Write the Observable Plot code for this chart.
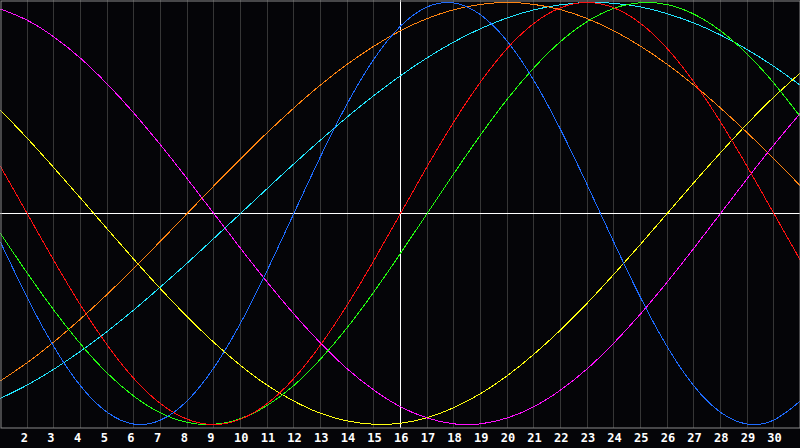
<!DOCTYPE html>
<html>
<head>
<meta charset="utf-8">
<script src="https://cdn.jsdelivr.net/npm/d3@7"></script>
<script src="https://cdn.jsdelivr.net/npm/@observablehq/plot@0.6"></script>
<style>
  html, body { margin: 0; padding: 0; background: #050508; }
  #chart svg { display: block; }
</style>
</head>
<body>
<div id="chart"></div>
<script>
const days = d3.range(1, 32);
const tickDays = d3.range(2, 31);
const todayDay = 16;

const physical = [-0.136,-0.398,-0.631,-0.817,-0.942,-0.998,-0.979,-0.888,-0.731,-0.520,-0.270,0,0.270,0.520,0.731,0.888,0.979,0.998,0.942,0.817,0.631,0.398,0.136,-0.136,-0.398,-0.631,-0.817,-0.942,-0.998,-0.979,-0.888];
const emotional = [0.223,0,-0.223,-0.434,-0.623,-0.782,-0.901,-0.975,-1,-0.975,-0.901,-0.782,-0.623,-0.434,-0.223,0,0.223,0.434,0.623,0.782,0.901,0.975,1,0.975,0.901,0.782,0.623,0.434,0.223,0,-0.223];
const intellectual = [-0.095,-0.282,-0.458,-0.618,-0.756,-0.866,-0.945,-0.990,-0.999,-0.972,-0.910,-0.815,-0.690,-0.541,-0.372,-0.189,0,0.189,0.372,0.541,0.690,0.815,0.910,0.972,0.999,0.990,0.945,0.866,0.756,0.618,0.458];
const intuitive = [0.969,0.916,0.837,0.736,0.614,0.476,0.325,0.165,0,-0.165,-0.325,-0.476,-0.614,-0.736,-0.837,-0.916,-0.969,-0.997,-0.997,-0.969,-0.916,-0.837,-0.736,-0.614,-0.476,-0.325,-0.165,0,0.165,0.325,0.476];
const aesthetic = [0.489,0.357,0.217,0.073,-0.073,-0.217,-0.357,-0.489,-0.611,-0.720,-0.814,-0.889,-0.947,-0.983,-0.999,-0.994,-0.968,-0.920,-0.854,-0.769,-0.667,-0.552,-0.425,-0.288,-0.146,0,0.146,0.288,0.425,0.552,0.667];
const awareness = [-0.793,-0.707,-0.609,-0.5,-0.383,-0.259,-0.131,0,0.131,0.259,0.383,0.5,0.609,0.707,0.793,0.866,0.924,0.966,0.991,1,0.991,0.966,0.924,0.866,0.793,0.707,0.609,0.5,0.383,0.259,0.131];
const spiritual = [-0.876,-0.813,-0.738,-0.653,-0.559,-0.457,-0.348,-0.235,-0.118,0,0.118,0.235,0.348,0.457,0.559,0.653,0.738,0.813,0.876,0.927,0.965,0.989,1.0,0.996,0.979,0.947,0.903,0.846,0.777,0.697,0.607];

const seriesNames = ["spiritual","awareness","aesthetic","intuitive","intellectual","emotional","physical"];
const seriesValues = [spiritual, awareness, aesthetic, intuitive, intellectual, emotional, physical];
const seriesColors = ["#22e6ff","#ff8410","#ffff10","#ff10ff","#22ff10","#ff1010","#1e6cff"];

const rows = [];
seriesNames.forEach((name, i) => {
  days.forEach((d, j) => rows.push({series: name, day: d, value: seriesValues[i][j]}));
});

const chart = Plot.plot({
  width: 800,
  height: 448,
  marginTop: 0,
  marginLeft: 0,
  marginRight: 0,
  marginBottom: 20,
  style: {background: "#050508", overflow: "visible"},
  x: {domain: [1, 31], range: [0, 800], axis: null},
  y: {domain: [-1, 1], range: [424, 2], axis: null},
  color: {domain: seriesNames, range: seriesColors},
  marks: [
    Plot.ruleX(tickDays, {x: d => d, stroke: "#363636", strokeWidth: 1, shapeRendering: "crispEdges"}),
    Plot.ruleY([0], {stroke: "#ffffff", strokeWidth: 1, shapeRendering: "crispEdges"}),
    Plot.ruleX([todayDay], {stroke: "#ffffff", strokeWidth: 1, shapeRendering: "crispEdges"}),
    Plot.line(rows, {x: "day", y: "value", z: "series", stroke: "series", strokeWidth: 1, curve: "natural", shapeRendering: "crispEdges"}),
    Plot.frame({stroke: "#8a8a8a", inset: 0.5}),
    Plot.text(tickDays, {
      x: d => d,
      frameAnchor: "bottom",
      dy: 5,
      dx: -6.5,
      textAnchor: "start",
      text: d => String(d),
      fill: "#ffffff",
      fontSize: 12,
      fontWeight: "bold",
      fontFamily: "DejaVu Sans Mono",
      lineAnchor: "top"
    })
  ]
});
document.getElementById("chart").appendChild(chart);
</script>
</body>
</html>
